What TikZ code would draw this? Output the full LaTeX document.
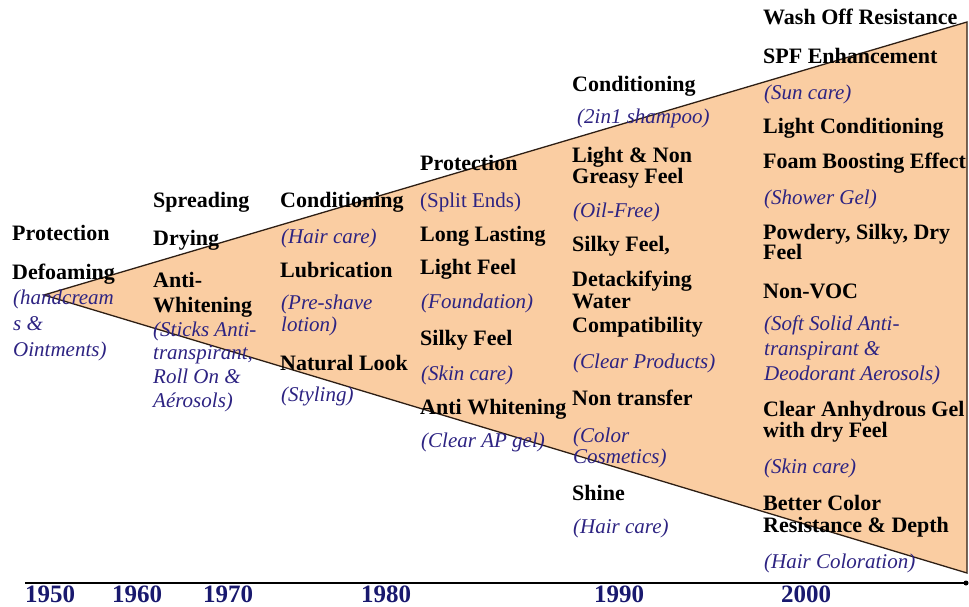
\documentclass[tikz,border=0pt]{standalone}
\usepackage{fontspec}
\setmainfont{Liberation Serif}
\definecolor{peach}{RGB}{250,205,162}
\definecolor{edge}{RGB}{45,30,20}
\definecolor{note}{RGB}{45,35,130}
\definecolor{year}{RGB}{25,25,110}
\begin{document}
\begin{tikzpicture}[x=1pt,y=-1pt,
  feat/.style={anchor=base west, inner sep=0pt, font=\fontsize{22}{22}\selectfont\bfseries},
  use/.style={anchor=base west, inner sep=0pt, text=note, font=\fontsize{21}{21}\selectfont\itshape},
  useup/.style={anchor=base west, inner sep=0pt, text=note, font=\fontsize{21}{21}\selectfont},
  yr/.style={anchor=base, inner sep=0pt, text=year, font=\fontsize{25}{25}\selectfont\bfseries},
  border/.style={draw=edge, line width=1.3pt, line join=miter}]
\useasboundingbox (0,0) rectangle (969,607);

% widening wedge of applications
\coordinate (apex) at (44,295);
\coordinate (topR) at (967,22);
\coordinate (botR) at (967,573);
\fill[peach] (apex) -- (topR) -- (botR) -- cycle;
\draw[border] (apex) -- (topR) -- (botR) -- cycle;

% time axis
\coordinate (axL) at (25,583);
\coordinate (axR) at (966,583);
\draw[line width=2pt] (axL) -- (axR);
\fill (axR) circle (2.5pt);

% years
\node[yr] (y1950) at (50,602) {1950};
\node[yr] (y1960) at (137,602) {1960};
\node[yr] (y1970) at (228,602) {1970};
\node[yr] (y1980) at (386,602) {1980};
\node[yr] (y1990) at (619,602) {1990};
\node[yr] (y2000) at (806,602) {2000};

% 1950s
\node[feat] (a1) at (12,240) {Protection};
\node[feat] (a2) at (12,279) {Defoaming};
\node[use]  (a3) at (13,304) {(handcream};
\node[use]  (a4) at (13,330) {s \&};
\node[use]  (a5) at (13,356) {Ointments)};

% 1960s
\node[feat] (b1) at (153,207) {Spreading};
\node[feat] (b2) at (153,245) {Drying};
\node[feat] (b3) at (153,287) {Anti-};
\node[feat] (b4) at (153,312) {Whitening};
\node[use]  (b5) at (153,336) {(Sticks Anti-};
\node[use]  (b6) at (153,359) {transpirant,};
\node[use]  (b7) at (153,383) {Roll On \&};
\node[use]  (b8) at (153,407) {Aérosols)};

% 1970s
\node[feat] (c1) at (280,207) {Conditioning};
\node[use]  (c2) at (281,243) {(Hair care)};
\node[feat] (c3) at (280,277) {Lubrication};
\node[use]  (c4) at (281,309) {(Pre-shave};
\node[use]  (c5) at (281,331) {lotion)};
\node[feat] (c6) at (280,370) {Natural Look};
\node[use]  (c7) at (281,401) {(Styling)};

% 1980s
\node[feat]  (d1) at (420,170) {Protection};
\node[useup] (d2) at (420,207) {(Split Ends)};
\node[feat]  (d3) at (420,241) {Long Lasting};
\node[feat]  (d4) at (420,274) {Light Feel};
\node[use]   (d5) at (421,308) {(Foundation)};
\node[feat]  (d6) at (420,345) {Silky Feel};
\node[use]   (d7) at (421,380) {(Skin care)};
\node[feat]  (d8) at (420,414) {Anti Whitening};
\node[use]   (d9) at (421,447) {(Clear AP gel)};

% 1990s
\node[feat] (e1)  at (572,92)  {Conditioning};
\node[use]  (e2)  at (577,124) {(2in1 shampoo)};
\node[feat] (e3)  at (572,162) {Light \& Non};
\node[feat] (e4)  at (572,183) {Greasy Feel};
\node[use]  (e5)  at (573,217) {(Oil-Free)};
\node[feat] (e6)  at (572,251) {Silky Feel,};
\node[feat] (e7)  at (572,286) {Detackifying};
\node[feat] (e8)  at (572,308) {Water};
\node[feat] (e9)  at (572,332) {Compatibility};
\node[use]  (e10) at (573,368) {(Clear Products)};
\node[feat] (e11) at (572,405) {Non transfer};
\node[use]  (e12) at (573,442) {(Color};
\node[use]  (e13) at (573,463) {Cosmetics)};
\node[feat] (e14) at (572,500) {Shine};
\node[use]  (e15) at (573,533) {(Hair care)};

% 2000s
\node[feat] (f1)  at (763,25)  {Wash Off Resistance};
\node[feat] (f2)  at (763,64)  {SPF Enhancement};
\node[use]  (f3)  at (764,100) {(Sun care)};
\node[feat] (f4)  at (763,134) {Light Conditioning};
\node[feat] (f5)  at (763,168) {Foam Boosting Effect};
\node[use]  (f6)  at (764,204) {(Shower Gel)};
\node[feat] (f7)  at (763,239) {Powdery, Silky, Dry};
\node[feat] (f8)  at (763,259) {Feel};
\node[feat] (f9)  at (763,298) {Non-VOC};
\node[use]  (f10) at (764,330) {(Soft Solid Anti-};
\node[use]  (f11) at (764,355) {transpirant \&};
\node[use]  (f12) at (764,380) {Deodorant Aerosols)};
\node[feat] (f13) at (763,416) {Clear Anhydrous Gel};
\node[feat] (f14) at (763,437) {with dry Feel};
\node[use]  (f15) at (764,473) {(Skin care)};
\node[feat] (f16) at (763,510) {Better Color};
\node[feat] (f17) at (763,532) {Resistance \& Depth};
\node[use]  (f18) at (764,568) {(Hair Coloration)};
\end{tikzpicture}
\end{document}
